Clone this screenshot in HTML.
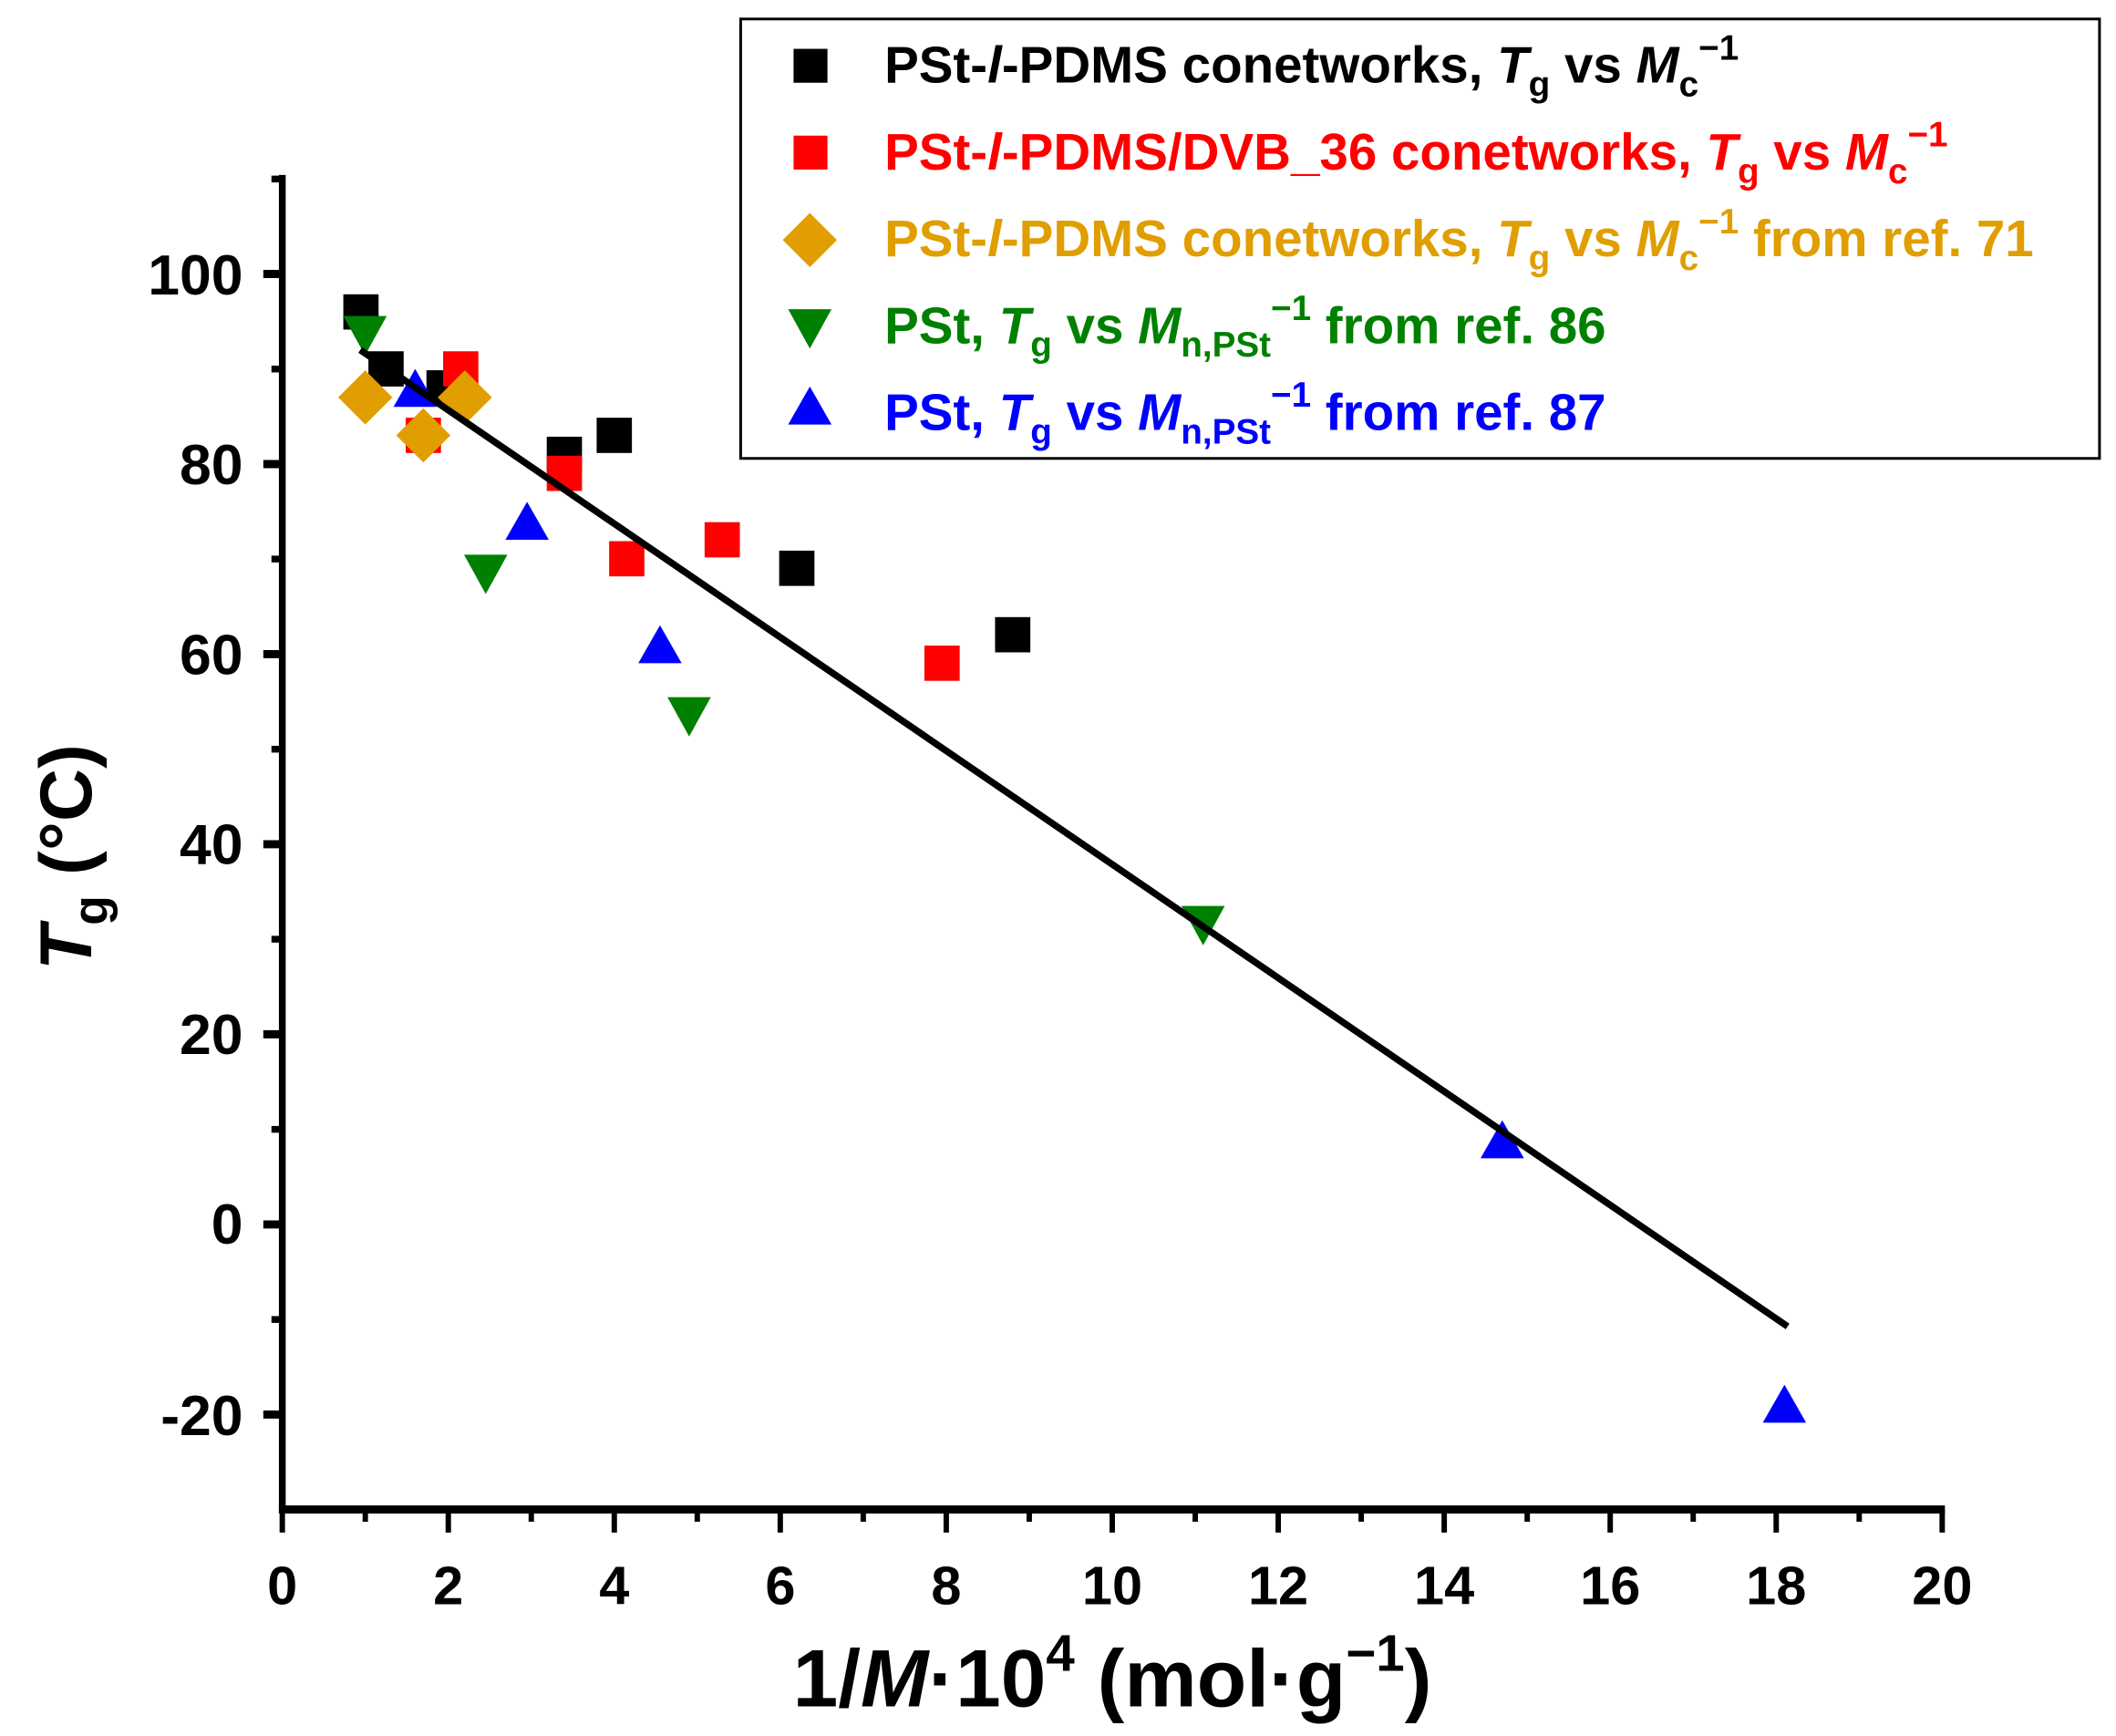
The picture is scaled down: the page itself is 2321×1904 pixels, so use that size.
<!DOCTYPE html>
<html><head><meta charset="utf-8"><style>
html,body{margin:0;padding:0;background:#fff;}
svg{display:block;}
text{font-family:"Liberation Sans",Arial,sans-serif;font-weight:bold;}
</style></head><body>
<svg width="2321" height="1904" viewBox="0 0 1560 1280" xmlns="http://www.w3.org/2000/svg">
<rect width="1560" height="1280" fill="#fff"/>
<g stroke="#000" fill="none">
<line x1="208" y1="129" x2="208" y2="1116" stroke-width="5"/>
<line x1="205.5" y1="1113" x2="1434" y2="1113" stroke-width="6"/>
<g stroke-width="6">
<line x1="194" y1="202" x2="208" y2="202"/>
<line x1="194" y1="342.2" x2="208" y2="342.2"/>
<line x1="194" y1="482.3" x2="208" y2="482.3"/>
<line x1="194" y1="622.5" x2="208" y2="622.5"/>
<line x1="194" y1="762.6" x2="208" y2="762.6"/>
<line x1="194" y1="902.8" x2="208" y2="902.8"/>
<line x1="194" y1="1043" x2="208" y2="1043"/>
</g>
<g stroke-width="5">
<line x1="200" y1="132" x2="208" y2="132"/>
<line x1="200" y1="272.1" x2="208" y2="272.1"/>
<line x1="200" y1="412.2" x2="208" y2="412.2"/>
<line x1="200" y1="552.4" x2="208" y2="552.4"/>
<line x1="200" y1="692.5" x2="208" y2="692.5"/>
<line x1="200" y1="832.7" x2="208" y2="832.7"/>
<line x1="200" y1="972.9" x2="208" y2="972.9"/>
</g>
<g stroke-width="4">
<line x1="208" y1="1113" x2="208" y2="1130"/>
<line x1="330.4" y1="1113" x2="330.4" y2="1130"/>
<line x1="452.8" y1="1113" x2="452.8" y2="1130"/>
<line x1="575.2" y1="1113" x2="575.2" y2="1130"/>
<line x1="697.6" y1="1113" x2="697.6" y2="1130"/>
<line x1="820" y1="1113" x2="820" y2="1130"/>
<line x1="942.4" y1="1113" x2="942.4" y2="1130"/>
<line x1="1064.8" y1="1113" x2="1064.8" y2="1130"/>
<line x1="1187.2" y1="1113" x2="1187.2" y2="1130"/>
<line x1="1309.6" y1="1113" x2="1309.6" y2="1130"/>
<line x1="1432" y1="1113" x2="1432" y2="1130"/>
<line x1="269.2" y1="1113" x2="269.2" y2="1122"/>
<line x1="391.6" y1="1113" x2="391.6" y2="1122"/>
<line x1="514" y1="1113" x2="514" y2="1122"/>
<line x1="636.4" y1="1113" x2="636.4" y2="1122"/>
<line x1="758.8" y1="1113" x2="758.8" y2="1122"/>
<line x1="881.2" y1="1113" x2="881.2" y2="1122"/>
<line x1="1003.6" y1="1113" x2="1003.6" y2="1122"/>
<line x1="1126" y1="1113" x2="1126" y2="1122"/>
<line x1="1248.4" y1="1113" x2="1248.4" y2="1122"/>
<line x1="1370.8" y1="1113" x2="1370.8" y2="1122"/>
</g>
</g>
<g font-size="42" text-anchor="end">
<text x="179" y="217">100</text>
<text x="179" y="357">80</text>
<text x="179" y="497">60</text>
<text x="179" y="637">40</text>
<text x="179" y="777">20</text>
<text x="179" y="917">0</text>
<text x="179" y="1058">-20</text>
</g>
<g font-size="40" text-anchor="middle">
<text x="208" y="1183">0</text>
<text x="330.4" y="1183">2</text>
<text x="452.8" y="1183">4</text>
<text x="575.2" y="1183">6</text>
<text x="697.6" y="1183">8</text>
<text x="820" y="1183">10</text>
<text x="942.4" y="1183">12</text>
<text x="1064.8" y="1183">14</text>
<text x="1187.2" y="1183">16</text>
<text x="1309.6" y="1183">18</text>
<text x="1432" y="1183">20</text>
</g>
<text x="820" y="1258" font-size="60" text-anchor="middle">1/<tspan font-style="italic">M</tspan>·10<tspan font-size="38" dy="-26">4</tspan><tspan dy="26"> (mol·g</tspan><tspan font-size="38" dy="-26">−1</tspan><tspan dy="26">)</tspan></text>
<text transform="translate(67,632) rotate(-90)" font-size="54" text-anchor="middle"><tspan font-style="italic">T</tspan><tspan font-size="36" dy="12">g</tspan><tspan dy="-12"> (°C)</tspan></text>
<g fill="#000">
<rect x="253" y="217" width="26" height="26"/>
<rect x="271.5" y="259" width="26" height="26"/>
<rect x="314.3" y="273" width="26" height="26"/>
<rect x="403" y="322" width="26" height="26"/>
<rect x="439.8" y="308" width="26" height="26"/>
<rect x="574.4" y="406" width="26" height="26"/>
<rect x="733.6" y="455" width="26" height="26"/>
</g>
<g fill="#ff0000">
<rect x="299" y="308" width="26" height="26"/>
<rect x="326.6" y="259" width="26" height="26"/>
<rect x="403" y="336" width="26" height="26"/>
<rect x="449" y="399" width="26" height="26"/>
<rect x="519.4" y="385" width="26" height="26"/>
<rect x="681.5" y="476" width="26" height="26"/>
</g>
<g fill="#e09e00">
<polygon points="269.2,273 289.2,293 269.2,313 249.2,293"/>
<polygon points="312,301 332,321 312,341 292,321"/>
<polygon points="342.6,273 362.6,293 342.6,313 322.6,293"/>
</g>
<g fill="#008000">
<polygon points="253,233 285,233 269,262"/>
<polygon points="342,409 374,409 358,438"/>
<polygon points="492,514 524,514 508,543"/>
<polygon points="871,668 903,668 887,697"/>
</g>
<g fill="#0000ff">
<polygon points="306,272 322,300 290,300"/>
<polygon points="388.5,370 404.5,398 372.5,398"/>
<polygon points="486.5,461 502.5,489 470.5,489"/>
<polygon points="1107.6,826 1123.6,854 1091.6,854"/>
<polygon points="1315.7,1021 1331.7,1049 1299.7,1049"/>
</g>
<line x1="265.5" y1="258" x2="1318" y2="978" stroke="#000" stroke-width="5"/>
<rect x="546" y="14" width="1002" height="324" fill="none" stroke="#000" stroke-width="2"/>
<rect x="585" y="36" width="25" height="25" fill="#000"/>
<rect x="585" y="100" width="25" height="25" fill="#ff0000"/>
<polygon points="597,157 617,177 597,197 577,177" fill="#e09e00"/>
<polygon points="581,228 613,228 597,257" fill="#008000"/>
<polygon points="597,285 613,313 581,313" fill="#0000ff"/>
<g font-size="38">
<text x="652" y="61" fill="#000">PSt-<tspan font-style="italic">l</tspan>-PDMS conetworks, <tspan font-style="italic">T</tspan><tspan font-size="26" dy="10">g</tspan><tspan dy="-10"> vs </tspan><tspan font-style="italic">M</tspan><tspan font-size="26" dy="10">c</tspan><tspan font-size="26" dy="-27">−1</tspan></text>
<text x="652" y="125" fill="#ff0000">PSt-<tspan font-style="italic">l</tspan>-PDMS/DVB_36 conetworks, <tspan font-style="italic">T</tspan><tspan font-size="26" dy="10">g</tspan><tspan dy="-10"> vs </tspan><tspan font-style="italic">M</tspan><tspan font-size="26" dy="10">c</tspan><tspan font-size="26" dy="-27">−1</tspan></text>
<text x="652" y="189" fill="#e09e00">PSt-<tspan font-style="italic">l</tspan>-PDMS conetworks, <tspan font-style="italic">T</tspan><tspan font-size="26" dy="10">g</tspan><tspan dy="-10"> vs </tspan><tspan font-style="italic">M</tspan><tspan font-size="26" dy="10">c</tspan><tspan font-size="26" dy="-27">−1</tspan><tspan dy="17"> from ref. 71</tspan></text>
<text x="652" y="253" fill="#008000">PSt, <tspan font-style="italic">T</tspan><tspan font-size="26" dy="10">g</tspan><tspan dy="-10"> vs </tspan><tspan font-style="italic">M</tspan><tspan font-size="26" dy="10">n,PSt</tspan><tspan font-size="26" dy="-27">−1</tspan><tspan dy="17"> from ref. 86</tspan></text>
<text x="652" y="317" fill="#0000ff">PSt, <tspan font-style="italic">T</tspan><tspan font-size="26" dy="10">g</tspan><tspan dy="-10"> vs </tspan><tspan font-style="italic">M</tspan><tspan font-size="26" dy="10">n,PSt</tspan><tspan font-size="26" dy="-27">−1</tspan><tspan dy="17"> from ref. 87</tspan></text>
</g>
</svg>
</body></html>
